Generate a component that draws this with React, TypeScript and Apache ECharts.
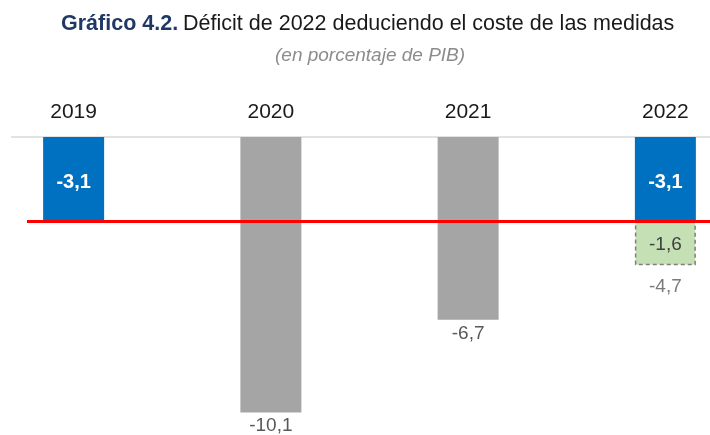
import React, { useEffect, useRef } from "react";
import * as echarts from "echarts";

const categories = ["2019", "2020", "2021", "2022"];
const deficit = [-3.1, -10.1, -6.7, -3.1];
const highlighted = [true, false, false, true];
const measures: (number | null)[] = [null, null, null, -1.6];
const totals: (number | null)[] = [null, null, null, -4.7];
const referenceValue = -3.1;

const BLUE = "#0070c0";
const GRAY = "#a5a5a5";
const GREEN = "#c5e0b4";
const FONT = "'Liberation Sans', Arial, sans-serif";

const fmt = (v: number) => v.toFixed(1).replace(".", ",");

export default function App() {
  const ref = useRef<HTMLDivElement>(null);
  useEffect(() => {
    if (!ref.current) return;
    const chart = echarts.init(ref.current, undefined, { renderer: "svg" });
    chart.setOption({
      animation: false,
      textStyle: { fontFamily: FONT },
      title: [
        {
          text: "{a|Gráfico 4.2.} {b|Déficit de 2022 deduciendo el coste de las medidas}",
          left: 56,
          top: 7,
          textStyle: {
            fontWeight: "normal",
            rich: {
              a: { fontFamily: FONT, fontSize: 21.5, fontWeight: "bold", color: "#1f3864" },
              b: { fontFamily: FONT, fontSize: 21.5, fontWeight: "normal", color: "#1a1a1a" },
            },
          },
        },
        {
          text: "(en porcentaje de PIB)",
          left: 270,
          top: 40,
          textStyle: { fontFamily: FONT, fontSize: 19, fontStyle: "italic", fontWeight: "normal", color: "#8c8c8c" },
        },
      ],
      grid: { left: -25, width: 789, top: 137, height: 300, outerBoundsMode: "none", containLabel: false },
      xAxis: {
        type: "category",
        position: "top",
        data: categories,
        axisLine: { show: false },
        axisTick: { show: false },
        axisLabel: { fontSize: 21, color: "#1a1a1a", margin: 16, fontFamily: FONT },
      },
      yAxis: {
        type: "value",
        min: -11,
        max: 0,
        axisLine: { show: false },
        axisLabel: { show: false },
        axisTick: { show: false },
        splitLine: { show: false },
      },
      series: [
        {
          type: "bar",
          stack: "a",
          barWidth: 61,
          data: deficit.map((v, i) => ({
            value: v,
            itemStyle: { color: highlighted[i] ? BLUE : GRAY },
            label: highlighted[i]
              ? { show: true, position: "inside", offset: [0, 2], color: "#ffffff", fontWeight: "bold", fontSize: 20, fontFamily: FONT }
              : { show: true, position: "bottom", distance: 3, color: "#595959", fontSize: 19, fontFamily: FONT },
          })),
          label: { show: true, formatter: (p: any) => fmt(p.value) },
        },
        {
          type: "bar",
          stack: "a",
          barWidth: 61,
          data: measures,
          itemStyle: { color: GREEN, borderColor: "#7f7f7f", borderType: [4, 3], borderWidth: 1.5 },
          label: {
            show: true,
            position: "inside",
            color: "#404040",
            fontSize: 19,
            fontFamily: FONT,
            formatter: (p: any) => fmt(p.value),
          },
        },
        {
          type: "scatter",
          data: totals,
          symbolSize: 1,
          itemStyle: { color: "rgba(0,0,0,0)" },
          label: {
            show: true,
            position: "bottom",
            distance: 10,
            color: "#595959",
            fontSize: 19,
            fontFamily: FONT,
            formatter: (p: any) => fmt(p.value),
          },
        },
      ],
    });
    const y0 = chart.convertToPixel({ yAxisIndex: 0 }, 0) as number;
    const yR = chart.convertToPixel({ yAxisIndex: 0 }, referenceValue) as number;
    chart.setOption({
      graphic: [
        { type: "line", z: 1, shape: { x1: 11, y1: y0, x2: 710, y2: y0 }, style: { stroke: "#d9d9d9", lineWidth: 1.5 } },
        { type: "line", z: 100, shape: { x1: 27, y1: yR, x2: 710, y2: yR }, style: { stroke: "#ff0000", lineWidth: 3 } },
      ],
    });
    return () => chart.dispose();
  }, []);
  return <div ref={ref} style={{ position: "fixed", left: 0, top: 0, width: 710, height: 435 }} />;
}
